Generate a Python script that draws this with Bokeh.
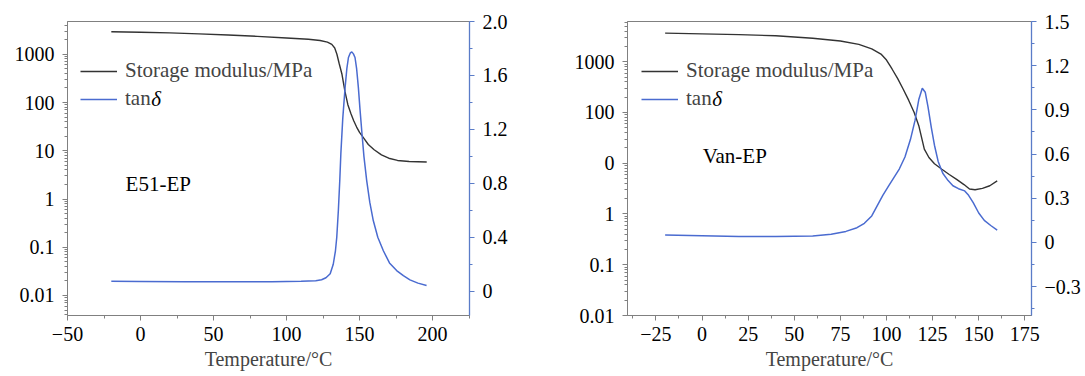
from bokeh.plotting import figure
from bokeh.models import (Range1d, LinearAxis, LinearScale, FixedTicker,
                          Legend, LegendItem, Label)
from bokeh.layouts import row
from bokeh.embed import file_html
from bokeh.resources import INLINE

# ---------------- data ----------------
# Panel (a): E51-EP
e51_mod_T = [-20, 0, 20, 40, 60, 80, 100, 115, 123, 128, 131, 133, 134.5, 136, 138,
             140, 142, 144, 146, 148, 150, 153, 156, 160, 165, 170, 176, 184, 196]
e51_mod = [2920, 2850, 2780, 2650, 2500, 2350, 2180, 2050, 1930, 1780, 1600, 1350,
           1000, 650, 380, 170, 90, 60, 42, 31, 24, 18, 13.5, 10.5, 8.2, 7.0, 6.3, 6.0, 5.85]
e51_tan_T = [-20, 0, 30, 60, 90, 110, 120, 124, 127, 129.9, 132, 133.5, 134.4, 135.5,
             136.5, 137.2, 138.5, 140.1, 141.3, 142.4, 143.6, 144.7, 145.8, 146.9, 148,
             149.2, 150.3, 151.5, 153, 154.9, 157, 159.4, 162.5, 166.3, 170.5, 175.4,
             180, 184.5, 190, 195.9]
e51_tan = [0.074, 0.072, 0.07, 0.07, 0.071, 0.074, 0.078, 0.085, 0.10, 0.13, 0.20,
           0.30, 0.40, 0.60, 0.83, 1.02, 1.28, 1.51, 1.65, 1.733, 1.765, 1.775, 1.76,
           1.733, 1.65, 1.51, 1.35, 1.19, 1.00, 0.82, 0.66, 0.524, 0.40, 0.30, 0.21,
           0.153, 0.115, 0.084, 0.06, 0.042]

# Panel (b): Van-EP
van_mod_T = [-20, 0, 20, 40, 60, 75, 85, 92, 97, 100, 103, 106, 109, 112, 115, 117.5,
             120.5, 123, 126, 130, 134, 138, 142, 145, 148, 152, 156, 160]
van_mod = [3670, 3550, 3420, 3250, 2900, 2560, 2200, 1800, 1420, 1080, 720, 470, 290,
           175, 100, 55, 19, 13, 9.8, 7.6, 6.0, 4.8, 3.8, 3.1, 3.0, 3.2, 3.6, 4.5]
van_tan_T = [-20, 0, 20, 40, 60, 70, 78, 84, 88, 92, 95, 98, 101, 104, 107, 110, 113,
             115.5, 117.5, 119.4, 121, 122.5, 124.3, 126, 128, 130.5, 133.4, 136, 139,
             142.4, 144.5, 147, 150, 153, 156.5, 160]
van_tan = [0.05, 0.045, 0.04, 0.04, 0.044, 0.055, 0.075, 0.10, 0.13, 0.18, 0.25, 0.32,
           0.38, 0.44, 0.50, 0.58, 0.70, 0.83, 0.97, 1.047, 1.02, 0.92, 0.78, 0.66,
           0.55, 0.47, 0.42, 0.385, 0.365, 0.35, 0.32, 0.27, 0.20, 0.15, 0.115, 0.083]

# axis ticks / labels
log_ticks = [0.01, 0.1, 1, 10, 100, 1000]
e51_log_labels = ["0.01", "0.1", "1", "10", "100", "1000"]
van_log_labels = ["0.01", "0.1", "1", "0", "100", "1000"]

e51_x_ticks = [-50, 0, 50, 100, 150, 200]
e51_x_labels = ["\u221250", "0", "50", "100", "150", "200"]
van_x_ticks = [-25, 0, 25, 50, 75, 100, 125, 150, 175]
van_x_labels = ["\u221225", "0", "25", "50", "75", "100", "125", "150", "175"]

e51_tan_ticks = [0.0, 0.4, 0.8, 1.2, 1.6, 2.0]
e51_tan_labels = ["0", "0.4", "0.8", "1.2", "1.6", "2.0"]
van_tan_ticks = [-0.3, 0.0, 0.3, 0.6, 0.9, 1.2, 1.5]
van_tan_labels = ["\u22120.3", "0", "0.3", "0.6", "0.9", "1.2", "1.5"]

mod_label = "Storage modulus/MPa"
tan_label = "tan"
delta_label = "\u03b4"
x_title = "Temperature/\u00b0C"

# ---------------- styling ----------------
FONT = "Liberation Serif"
GRAY = "#808080"
AX_BLUE = "#5a7cc8"
BLUE = "#4a6bd0"
BLACK = "#333333"
TICK_FS = "20px"
TEXT_FS = "21px"


def style_axis(ax, color):
    ax.axis_line_color = color
    ax.major_tick_line_color = color
    ax.minor_tick_line_color = color
    ax.major_tick_out = 5
    ax.major_tick_in = 0
    ax.minor_tick_out = 3
    ax.minor_tick_in = 0
    ax.major_label_text_font = FONT
    ax.major_label_text_font_size = TICK_FS
    ax.major_label_text_color = "black"


def make_panel(width, mb_left, mb_right, xr, yr_log, yr_tan,
               x_ticks, x_minor, x_labels, log_labels, tan_ticks, tan_minor, tan_labels,
               mod_T, mod, tan_T, tan, name, name_xy, legend_loc, delta_xy):
    p = figure(width=width, height=376, output_backend="svg", toolbar_location=None,
               y_axis_type="log", x_range=Range1d(*xr), y_range=Range1d(*yr_log),
               min_border_left=mb_left, min_border_right=mb_right,
               min_border_top=21, min_border_bottom=61)
    p.extra_y_ranges = {"tan": Range1d(*yr_tan)}
    p.extra_y_scales = {"tan": LinearScale()}
    p.grid.visible = False
    p.outline_line_color = GRAY
    p.outline_line_width = 1
    p.background_fill_color = "white"
    p.border_fill_color = "white"

    r1 = p.line(mod_T, mod, line_color=BLACK, line_width=1.4)
    r2 = p.line(tan_T, tan, line_color=BLUE, line_width=1.5, y_range_name="tan")

    # bottom axis
    xa = p.xaxis[0]
    xa.ticker = FixedTicker(ticks=x_ticks, minor_ticks=x_minor)
    xa.major_label_overrides = dict(zip(x_ticks, x_labels))
    style_axis(xa, GRAY)
    xa.major_label_standoff = 6
    xa.axis_label = x_title
    xa.axis_label_text_font = FONT
    xa.axis_label_text_font_size = TICK_FS
    xa.axis_label_text_font_style = "normal"
    xa.axis_label_standoff = 4

    # left log axis
    ya = p.yaxis[0]
    minors = [m * 10.0 ** e for e in range(-3, 4) for m in range(2, 10)]
    ya.ticker = FixedTicker(ticks=log_ticks, minor_ticks=minors)
    ya.major_label_overrides = dict(zip(log_ticks, log_labels))
    style_axis(ya, GRAY)
    ya.major_label_standoff = 8

    # right linear axis for tan delta
    ra = LinearAxis(y_range_name="tan",
                    ticker=FixedTicker(ticks=tan_ticks, minor_ticks=tan_minor))
    ra.major_label_overrides = dict(zip(tan_ticks, tan_labels))
    style_axis(ra, AX_BLUE)
    ra.axis_line_width = 1.3
    ra.major_label_standoff = 8
    p.add_layout(ra, "right")

    legend = Legend(items=[LegendItem(label=mod_label, renderers=[r1]),
                           LegendItem(label=tan_label, renderers=[r2])],
                    location=legend_loc)
    legend.background_fill_alpha = 0
    legend.border_line_alpha = 0
    legend.padding = 0
    legend.margin = 0
    legend.spacing = 3
    legend.glyph_width = 37
    legend.glyph_height = 20
    legend.label_height = 20
    legend.label_standoff = 8
    legend.label_text_font = FONT
    legend.label_text_font_size = TEXT_FS
    p.add_layout(legend)

    # italic delta following "tan" in the legend
    p.add_layout(Label(x=delta_xy[0], y=delta_xy[1], text=delta_label, text_font=FONT,
                       text_font_size=TEXT_FS, text_font_style="italic",
                       text_baseline="middle", text_color="black"))

    p.add_layout(Label(x=name_xy[0], y=name_xy[1], text=name, text_font=FONT,
                       text_font_size=TEXT_FS, text_baseline="middle",
                       text_color="black"))
    return p


p1 = make_panel(545, 67, 76, (-50, 225.3), (0.00385, 4775), (-0.18, 2.0),
                e51_x_ticks, [-25, 25, 75, 125, 175, 225], e51_x_labels, e51_log_labels,
                e51_tan_ticks, [0.2, 0.6, 1.0, 1.4, 1.8], e51_tan_labels,
                e51_mod_T, e51_mod, e51_tan_T, e51_tan, "E51-EP", (-10.2, 2.06), (13, 204),
                (7.4, 118))

p2 = make_panel(540, 82, 54, (-40.4, 178.6), (0.01, 6210), (-0.496, 1.5),
                van_x_ticks, [-37.5, -12.5, 12.5, 37.5, 62.5, 87.5, 112.5, 137.5, 162.5],
                van_x_labels, van_log_labels,
                van_tan_ticks, [-0.45, -0.15, 0.15, 0.45, 0.75, 1.05, 1.35], van_tan_labels,
                van_mod_T, van_mod, van_tan_T, van_tan, "Van-EP", (0.35, 14.1), (14, 204),
                (5.5, 184))

layout = row(p1, p2)
open("out.html", "w").write(file_html(layout, INLINE))
